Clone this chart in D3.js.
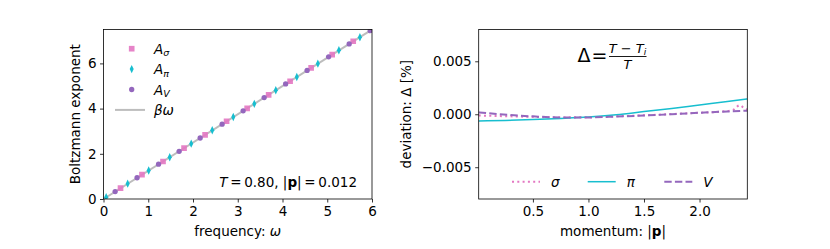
<!DOCTYPE html>
<html>
<head>
<meta charset="utf-8">
<script src="https://cdn.jsdelivr.net/npm/d3@7"></script>
<style>
  body { margin: 0; background: #fff; }
  svg text { font-family: "DejaVu Sans", sans-serif; fill: #000; }
</style>
</head>
<body>
<div id="chart"></div>
<script>
// ---- left panel: Boltzmann exponent vs frequency ----
const sigmaOmega = [0.38, 0.86, 1.33, 1.80, 2.27, 2.75, 3.21, 3.69, 4.17, 4.64, 5.11, 5.58];
const sigmaExp   = [0.48, 1.08, 1.66, 2.25, 2.84, 3.44, 4.01, 4.61, 5.21, 5.80, 6.39, 6.98];
const piOmega    = [0.06, 0.54, 1.01, 1.48, 1.96, 2.43, 2.90, 3.37, 3.85, 4.32, 4.79, 5.26, 5.73];
const piExp      = [0.08, 0.68, 1.26, 1.85, 2.45, 3.04, 3.63, 4.21, 4.81, 5.40, 5.99, 6.58, 7.16];
const vOmega     = [0.26, 0.75, 1.23, 1.69, 2.16, 2.65, 3.12, 3.59, 4.07, 4.55, 5.03, 5.49, 5.96];
const vExp       = [0.33, 0.94, 1.54, 2.11, 2.70, 3.31, 3.90, 4.49, 5.09, 5.69, 6.29, 6.86, 7.45];
const betaOmegaX = [0, 6];
const betaOmegaY = [0, 7.5];
const leftXTicks = [0, 1, 2, 3, 4, 5, 6];
const leftYTicks = [0, 2, 4, 6];

// ---- right panel: deviation vs momentum ----
const sigmaP   = [0.012, 0.15, 0.3, 0.5, 0.75, 1.0, 1.25, 1.5, 1.75, 2.0, 2.2, 2.3, 2.36, 2.4, 2.43];
const sigmaDev = [-0.00012, -0.00016, -0.00020, -0.00025, -0.00030, -0.00028, -0.00020, -0.00010, 0.00002, 0.00014, 0.00026, 0.00040, 0.00085, 0.00060, 0.00045];
const piP      = [0.012, 0.25, 0.5, 0.75, 1.0, 1.25, 1.5, 1.75, 2.0, 2.25, 2.43];
const piDev    = [-0.00064, -0.00058, -0.00050, -0.00040, -0.00027, -0.00005, 0.00025, 0.00055, 0.00088, 0.00120, 0.00145];
const vP       = [0.012, 0.15, 0.3, 0.5, 0.75, 1.0, 1.25, 1.5, 1.75, 2.0, 2.25, 2.43];
const vDev     = [0.00018, 0.00005, -0.00008, -0.00020, -0.00030, -0.00030, -0.00022, -0.00012, 0.00000, 0.00014, 0.00026, 0.00034];
const rightXTicks = [0.5, 1.0, 1.5, 2.0];
const rightYTicks = [-0.005, 0, 0.005];

const PINK = "#e377c2", CYAN = "#17becf", PURPLE = "#9467bd";
const FS = 13.5;

const W = 830, H = 249;
const svg = d3.select("#chart").append("svg").attr("width", W).attr("height", H);

const yTop = 29.5, yBot = 199;

// helper for minus sign like matplotlib
const fmt3 = d => (d < 0 ? "\u2212" : "") + Math.abs(d).toFixed(3);

function frame(g, x0, x1) {
  g.append("rect")
    .attr("x", x0).attr("y", yTop)
    .attr("width", x1 - x0).attr("height", yBot - yTop)
    .attr("fill", "none").attr("stroke", "#000").attr("stroke-width", 0.8);
}

function axes(g, x, y, xt, yt, xf, yf) {
  const xa = g.append("g").attr("transform", `translate(0,${yBot})`)
    .call(d3.axisBottom(x).tickValues(xt).tickFormat(xf).tickSize(3.5).tickPadding(3.5));
  const ya = g.append("g").attr("transform", `translate(${x.range()[0]},0)`)
    .call(d3.axisLeft(y).tickValues(yt).tickFormat(yf).tickSize(3.5).tickPadding(3.5));
  [xa, ya].forEach(a => {
    a.select(".domain").remove();
    a.selectAll("line").attr("stroke", "#000").attr("stroke-width", 0.8);
    a.selectAll("text").style("font-size", FS + "px").attr("fill", "#000")
      .style("font-family", "DejaVu Sans");
  });
}

// ================= LEFT =================
const xL = d3.scaleLinear().domain([0, 6]).range([103.5, 372]);
const yL = d3.scaleLinear().domain([0, 7.5]).range([yBot, yTop]);
const gL = svg.append("g");

svg.append("clipPath").attr("id", "clipL").append("rect")
  .attr("x", 103.5).attr("y", yTop).attr("width", 372 - 103.5).attr("height", yBot - yTop);
const plotL = gL.append("g").attr("clip-path", "url(#clipL)");

const lineL = d3.line().x(d => xL(d[0])).y(d => yL(d[1]));
plotL.append("path")
  .attr("d", lineL(d3.zip(betaOmegaX, betaOmegaY)))
  .attr("stroke", "#bdbdbd").attr("stroke-width", 2).attr("fill", "none");

const symSq = d3.symbol().type(d3.symbolSquare).size(32);
const symCirc = d3.symbol().type(d3.symbolCircle).size(22);
const diamond = "M0,-4.2L2,0L0,4.2L-2,0Z";

plotL.selectAll(".sq").data(d3.zip(sigmaOmega, sigmaExp)).join("path")
  .attr("d", symSq).attr("fill", PINK).attr("opacity", 0.9)
  .attr("transform", d => `translate(${xL(d[0])},${yL(d[1])})`);
plotL.selectAll(".dm").data(d3.zip(piOmega, piExp)).join("path")
  .attr("d", diamond).attr("fill", CYAN)
  .attr("transform", d => `translate(${xL(d[0])},${yL(d[1])})`);
plotL.selectAll(".ci").data(d3.zip(vOmega, vExp)).join("path")
  .attr("d", symCirc).attr("fill", PURPLE)
  .attr("transform", d => `translate(${xL(d[0])},${yL(d[1])})`);

frame(gL, 103.5, 372);
axes(gL, xL, yL, leftXTicks, leftYTicks, d3.format("d"), d3.format("d"));

// legend (left)
const legL = gL.append("g");
const legRows = [
  { kind: "sq", sub: "\u03c3" },
  { kind: "dm", sub: "\u03c0" },
  { kind: "ci", sub: "V" },
  { kind: "ln" }
];
legRows.forEach((r, i) => {
  const cy = 48.7 + i * 20.4;
  if (r.kind === "sq") legL.append("path").attr("d", symSq).attr("fill", PINK).attr("opacity", 0.9).attr("transform", `translate(131.7,${cy})`);
  if (r.kind === "dm") legL.append("path").attr("d", diamond).attr("fill", CYAN).attr("transform", `translate(131.7,${cy})`);
  if (r.kind === "ci") legL.append("path").attr("d", symCirc).attr("fill", PURPLE).attr("transform", `translate(131.7,${cy})`);
  if (r.kind === "ln") legL.append("line").attr("x1", 115).attr("x2", 145).attr("y1", cy).attr("y2", cy)
    .attr("stroke", "#bdbdbd").attr("stroke-width", 2);
  const t = legL.append("text").attr("x", 154).attr("y", cy + 5).style("font-size", FS + "px");
  if (r.kind === "ln") {
    t.append("tspan").style("font-style", "italic").text("\u03b2\u03c9");
  } else {
    t.append("tspan").style("font-style", "italic").text("A");
    t.append("tspan").style("font-style", "italic").style("font-size", "9.5px").attr("dy", 2.5).text(r.sub);
  }
});

// annotation
const ann = gL.append("text").attr("x", 357).attr("y", 187).attr("text-anchor", "end").style("font-size", FS + "px");
ann.append("tspan").style("font-style", "italic").text("T");
ann.append("tspan").text("\u2009=\u20090.80, |");
ann.append("tspan").style("font-weight", "bold").text("p");
ann.append("tspan").text("|\u2009=\u20090.012");

// labels
gL.append("text").attr("x", 237.7).attr("y", 236).attr("text-anchor", "middle").style("font-size", FS + "px")
  .text("frequency: ").append("tspan").style("font-style", "italic").text("\u03c9");
gL.append("text").attr("transform", `translate(80,114.2) rotate(-90)`).attr("text-anchor", "middle")
  .style("font-size", FS + "px").text("Boltzmann exponent");

// ================= RIGHT =================
const xR = d3.scaleLinear().domain([0.012, 2.43]).range([478.7, 747.3]);
const yR = d3.scaleLinear().domain([-0.008, 0.008]).range([yBot, yTop]);
const gR = svg.append("g");
svg.append("clipPath").attr("id", "clipR").append("rect")
  .attr("x", 478.7).attr("y", yTop).attr("width", 747.3 - 478.7).attr("height", yBot - yTop);
const plotR = gR.append("g").attr("clip-path", "url(#clipR)");

const lineR = d3.line().curve(d3.curveMonotoneX).x(d => xR(d[0])).y(d => yR(d[1]));
const seriesR = [
  { p: sigmaP, v: sigmaDev, color: PINK, dash: "2,3.3", w: 2, name: "\u03c3" },
  { p: piP, v: piDev, color: CYAN, dash: null, w: 1.5, name: "\u03c0" },
  { p: vP, v: vDev, color: PURPLE, dash: "7.4,3.2", w: 2, name: "V" }
];
seriesR.forEach(s => {
  plotR.append("path").attr("d", lineR(d3.zip(s.p, s.v)))
    .attr("fill", "none").attr("stroke", s.color).attr("stroke-width", s.w)
    .attr("stroke-dasharray", s.dash);
});

frame(gR, 478.7, 747.3);
axes(gR, xR, yR, rightXTicks, rightYTicks, d3.format(".1f"), fmt3);

// legend (right)
const legX = [512, 587.7, 664.3];
seriesR.forEach((s, i) => {
  gR.append("line").attr("x1", legX[i]).attr("x2", legX[i] + 28).attr("y1", 181.7).attr("y2", 181.7)
    .attr("stroke", s.color).attr("stroke-width", s.w).attr("stroke-dasharray", s.dash);
  gR.append("text").attr("x", legX[i] + 39).attr("y", 186.5).style("font-size", FS + "px")
    .style("font-style", "italic").text(s.name);
});

// formula
const fm = gR.append("g");
fm.append("text").attr("x", 577.5).attr("y", 62).style("font-size", "19px").text("\u0394");
fm.append("text").attr("x", 591.5).attr("y", 62).style("font-size", "19px").text("=");
const num = fm.append("text").attr("x", 627.5).attr("y", 52.5).attr("text-anchor", "middle").style("font-size", "13px");
num.append("tspan").style("font-style", "italic").text("T");
num.append("tspan").text(" \u2212 ");
num.append("tspan").style("font-style", "italic").text("T");
num.append("tspan").style("font-style", "italic").style("font-size", "9px").attr("dy", 2).text("i");
fm.append("line").attr("x1", 609).attr("x2", 646.5).attr("y1", 56.5).attr("y2", 56.5).attr("stroke", "#000").attr("stroke-width", 0.9);
fm.append("text").attr("x", 627.5).attr("y", 68.5).attr("text-anchor", "middle").style("font-size", "13px")
  .style("font-style", "italic").text("T");

// labels
const xlab = gR.append("text").attr("x", 613).attr("y", 236).attr("text-anchor", "middle").style("font-size", FS + "px");
xlab.append("tspan").text("momentum: |");
xlab.append("tspan").style("font-weight", "bold").text("p");
xlab.append("tspan").text("|");
gR.append("text").attr("transform", `translate(411,114.2) rotate(-90)`).attr("text-anchor", "middle")
  .style("font-size", FS + "px").text("deviation: \u0394 [%]");
</script>
</body>
</html>
